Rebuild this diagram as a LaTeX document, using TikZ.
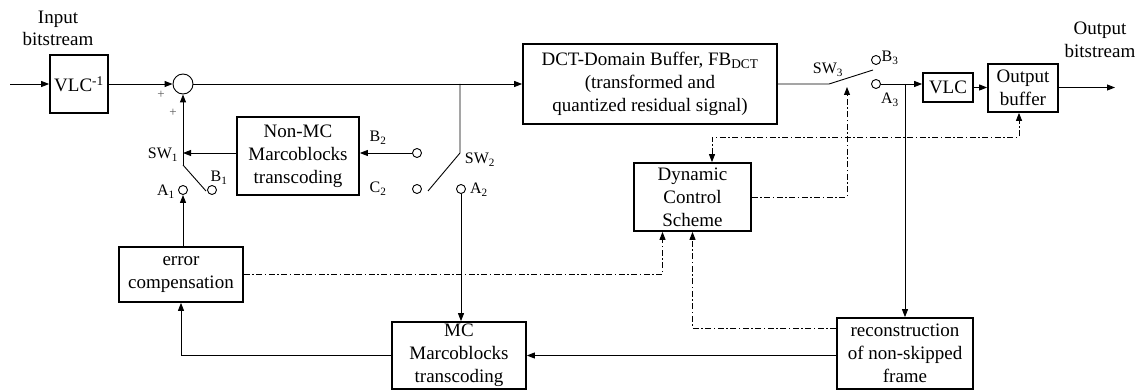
\documentclass[tikz,border=0pt]{standalone}
\usepackage{fontspec}
\setmainfont{Liberation Serif}
\usetikzlibrary{arrows.meta}

\begin{document}
\begin{tikzpicture}[x=1pt,y=-1pt,
  >={Triangle[length=8pt,width=6pt]},
  line width=0.9pt,
  block/.style={draw,line width=1.7pt,inner sep=0pt,align=center,font=\fontsize{19}{23}\selectfont},
  contact/.style={draw,circle,inner sep=0pt,minimum size=9pt},
  lbl/.style={inner sep=0pt,font=\fontsize{16}{18}\selectfont},
  plus/.style={inner sep=0pt,text=black!65,font=\fontsize{13}{14}\selectfont},
  ctrl/.style={dash pattern=on 6pt off 2.5pt on 1.5pt off 2.5pt}]
\useasboundingbox (0,0) rectangle (1141,390);

\node[align=center,font=\fontsize{19}{22}\selectfont] (inl) at (58,28) {Input\\bitstream};
\node[align=center,font=\fontsize{19}{23}\selectfont] (outl) at (1100,40) {Output\\bitstream};

\node[block,minimum width=58,minimum height=58] (vlcinv) at (79,84) {VLC\textsuperscript{-1}};
\node[draw,circle,minimum size=20,inner sep=0pt] (sum) at (183,84) {};
\node[block,minimum width=254,minimum height=80] (dct) at (650,84) {DCT-Domain Buffer, FB\textsubscript{DCT}\\(transformed and\\quantized residual signal)};
\node[block,minimum width=50,minimum height=29] (vlc) at (948,87.5) {VLC};
\node[block,minimum width=70,minimum height=48] (obuf) at (1023,88) {Output\\buffer};
\node[block,minimum width=122,minimum height=78] (nonmc) at (298,156) {Non-MC\\Marcoblocks\\transcoding};
\node[block,minimum width=124,minimum height=55] (errc) at (181,274.5) {error\\compensation};
\node[block,minimum width=117,minimum height=68] (dyn) at (692.5,197) {Dynamic\\Control\\Scheme};
\node[block,minimum width=134,minimum height=67] (mc) at (459,355.5) {MC\\Marcoblocks\\transcoding};
\node[block,minimum width=136,minimum height=71] (recon) at (905,353.5) {reconstruction\\of non-skipped\\frame};

\node[contact] (a1) at (183,190) {};
\node[contact] (b1) at (212,190) {};
\node[contact] (b2) at (417,153) {};
\node[contact] (c2) at (417,189) {};
\node[contact] (a2) at (461,189) {};
\node[contact] (b3) at (876,60) {};
\node[contact] (a3) at (876,84) {};

\coordinate (in) at (10,84);
\coordinate (sw1m) at (183,153);
\coordinate (sw1) at (183,165);
\coordinate (sw1e) at (206,191);
\coordinate (sw2t) at (460,84);
\coordinate (sw2) at (460,153);
\coordinate (sw2e) at (428,191);
\coordinate (sw3) at (829,84);
\coordinate (sw3e) at (873,70);
\coordinate (sw3c) at (847,87);
\coordinate (tap) at (905,84);
\coordinate (out) at (1115,87.5);

\node[plus] (p1) at (161,95) {+};
\node[plus] (p2) at (173,113) {+};
\node[lbl] (sw1l) at (163,155) {SW\textsubscript{1}};
\node[lbl] (a1l) at (166,192) {A\textsubscript{1}};
\node[lbl] (b1l) at (219,178) {B\textsubscript{1}};
\node[lbl] (b2l) at (378,138) {B\textsubscript{2}};
\node[lbl] (c2l) at (378,189) {C\textsubscript{2}};
\node[lbl] (sw2l) at (480,160) {SW\textsubscript{2}};
\node[lbl] (a2l) at (479,190) {A\textsubscript{2}};
\node[lbl] (sw3l) at (828,70) {SW\textsubscript{3}};
\node[lbl] (b3l) at (890,58) {B\textsubscript{3}};
\node[lbl] (a3l) at (890,100) {A\textsubscript{3}};

\draw[->] (in) -- (vlcinv.west);
\draw[->] (vlcinv.east) -- (sum.west);
\draw[->] (sum.east) -- (dct.west);
\draw (sw2t) -- (sw2) -- (sw2e);
\draw[->] (b2.west) -- (nonmc.east |- b2);
\draw[->] (nonmc.west |- sw1m) -- (sw1m);
\draw[->] (sw1) -- (sum.south);
\draw (sw1) -- (sw1e);
\draw[->] (errc.north -| a1) -- (a1.south);
\draw[->] (a2.south) -- (mc.north -| a2);
\draw[->] (mc.west) -| (errc.south);
\draw[->] (recon.west |- mc) -- (mc.east);
\draw (dct.east |- sw3) -- (sw3) -- (sw3e);
\draw[->] (a3.east) -- (a3 -| vlc.west);
\draw[->] (vlc.east) -- (obuf.west |- vlc);
\draw[->] (obuf.east |- out) -- (out);
\draw[->] (tap) -- (recon.north);

\draw[ctrl,->] (errc.east) -| ([xshift=-30pt]dyn.south);
\draw[ctrl,->] ([yshift=25.5pt]recon.west) -| (dyn.south);
\draw[ctrl,->] (dyn.east) -| (sw3c);
\draw[ctrl,<->] ([xshift=19.5pt]dyn.north) -- ++(0,-25) -| ([xshift=-4pt]obuf.south);
\end{tikzpicture}
\end{document}
